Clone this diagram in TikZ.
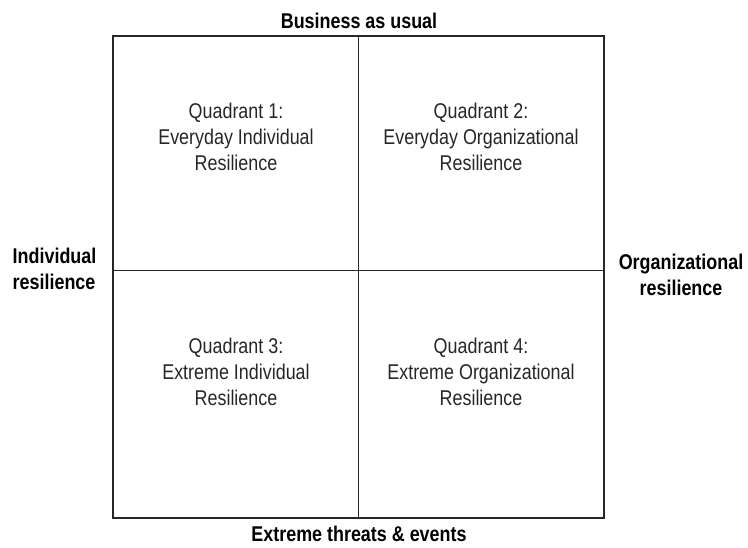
\documentclass[tikz,border=0pt]{standalone}
\usepackage{fontspec}
\setmainfont{Liberation Sans}[FakeStretch=0.84]
\begin{document}
\begin{tikzpicture}[x=0.75pt,y=-0.75pt,
  quad/.style={align=center,font=\fontsize{16pt}{19.5pt}\selectfont,text=black!85},
  axislabel/.style={align=center,font=\fontsize{16pt}{19.5pt}\selectfont\bfseries}]
\useasboundingbox (0,0) rectangle (748,548);
\draw[line width=1.4pt,black!85] (113,36) rectangle (604,518);
\coordinate (top) at (358.5,36);
\coordinate (bot) at (358.5,518);
\coordinate (lft) at (113,270.5);
\coordinate (rgt) at (604,270.5);
\draw[line width=1.4pt,black!85] (top) -- (bot);
\draw[line width=1.4pt,black!85] (lft) -- (rgt);
\node[quad] (q1) at (236,137) {Quadrant 1:\\Everyday Individual\\Resilience};
\node[quad] (q2) at (481,137) {Quadrant 2:\\Everyday Organizational\\Resilience};
\node[quad] (q3) at (236,372) {Quadrant 3:\\Extreme Individual\\Resilience};
\node[quad] (q4) at (481,372) {Quadrant 4:\\Extreme Organizational\\Resilience};
\node[axislabel] (ba) at (359,21) {Business as usual};
\node[axislabel] (et) at (359,534) {Extreme threats \& events};
\node[axislabel,align=left,anchor=west] (ir) at (8,269) {Individual\\resilience};
\node[axislabel] (or) at (681,275) {Organizational\\resilience};
\end{tikzpicture}
\end{document}
